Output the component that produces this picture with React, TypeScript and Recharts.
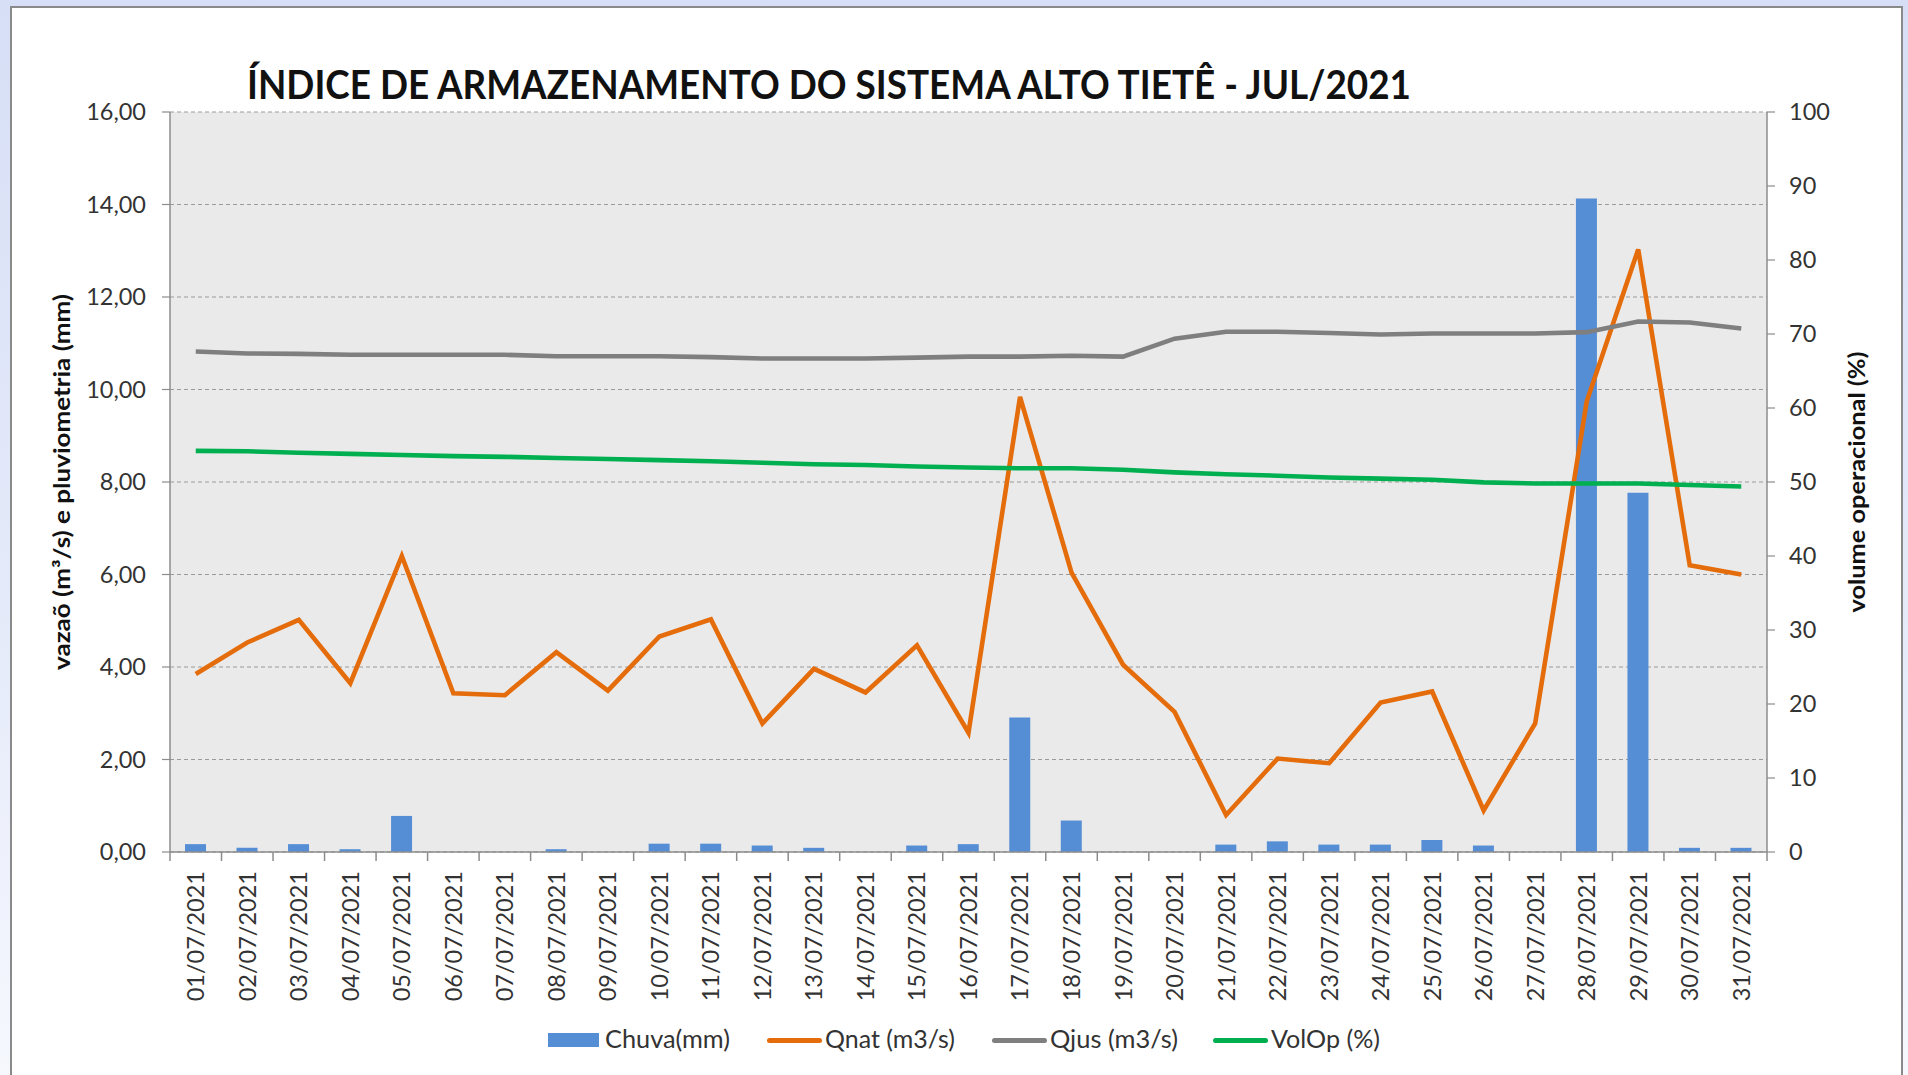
import React from 'react';
import { ComposedChart, Bar, Line, XAxis, YAxis, CartesianGrid, Label } from 'recharts';

const days = [
  '01/07/2021', '02/07/2021', '03/07/2021', '04/07/2021', '05/07/2021', '06/07/2021', '07/07/2021', '08/07/2021',
  '09/07/2021', '10/07/2021', '11/07/2021', '12/07/2021', '13/07/2021', '14/07/2021', '15/07/2021', '16/07/2021',
  '17/07/2021', '18/07/2021', '19/07/2021', '20/07/2021', '21/07/2021', '22/07/2021', '23/07/2021', '24/07/2021',
  '25/07/2021', '26/07/2021', '27/07/2021', '28/07/2021', '29/07/2021', '30/07/2021', '31/07/2021',
];

const chuva = [0.17, 0.09, 0.17, 0.06, 0.78, 0, 0, 0.06, 0, 0.18, 0.18, 0.14, 0.09, 0, 0.14, 0.17, 2.91, 0.68, 0, 0, 0.16, 0.23, 0.16, 0.16, 0.26, 0.14, 0, 14.13, 7.77, 0.09, 0.09];
const qnat = [3.85, 4.53, 5.02, 3.65, 6.4, 3.43, 3.39, 4.32, 3.49, 4.66, 5.03, 2.78, 3.96, 3.45, 4.47, 2.58, 9.84, 6.04, 4.05, 3.03, 0.8, 2.02, 1.92, 3.23, 3.47, 0.9, 2.78, 9.74, 13.03, 6.2, 6.0];
const qjus = [10.82, 10.78, 10.77, 10.75, 10.75, 10.75, 10.75, 10.72, 10.72, 10.72, 10.7, 10.67, 10.67, 10.67, 10.69, 10.71, 10.71, 10.73, 10.71, 11.1, 11.25, 11.25, 11.22, 11.19, 11.21, 11.21, 11.21, 11.24, 11.47, 11.45, 11.32];
const volop = [54.2, 54.15, 53.95, 53.8, 53.65, 53.5, 53.4, 53.25, 53.1, 52.95, 52.8, 52.6, 52.4, 52.3, 52.1, 51.95, 51.86, 51.86, 51.66, 51.3, 51.05, 50.85, 50.6, 50.45, 50.3, 49.95, 49.8, 49.8, 49.8, 49.6, 49.4];

const leftTicks = [0, 2, 4, 6, 8, 10, 12, 14, 16];
const rightTicks = [0, 10, 20, 30, 40, 50, 60, 70, 80, 90, 100];

const seriesNames = ['Chuva(mm)', 'Qnat (m3/s)', 'Qjus (m3/s)', 'VolOp (%)'];
const title = 'ÍNDICE DE ARMAZENAMENTO DO SISTEMA ALTO TIETÊ - JUL/2021';
const leftTitle = 'vazaõ (m³/s) e pluviometria (mm)';
const rightTitle = 'volume operacional (%)';

const data = days.map((d, i) => ({ day: d, chuva: chuva[i], qnat: qnat[i], qjus: qjus[i], volop: volop[i] }));

const W = 1908;
const H = 1075;
const FONT = 'Lato, "Open Sans", sans-serif';
const C_BAR = '#558ED5';
const C_QNAT = '#E46C0A';
const C_QJUS = '#7F7F7F';
const C_VOL = '#00B050';
const C_AXIS = '#8C8C8C';
const C_TEXT = '#333333';
const X_TICK_SIZE = 9;
const X_TICK_MARGIN = 10;
const LINE_W = 4.6;

const fmtLeft = (v: number) => v.toFixed(2).replace('.', ',');

function XTick(props: any) {
  const { x, y, payload, index, visibleTicksCount, width } = props;
  const n = visibleTicksCount || days.length;
  const half = typeof payload?.offset === 'number' && payload.offset > 0 ? payload.offset : width / n / 2;
  const axisY = y - X_TICK_SIZE - X_TICK_MARGIN;
  return (
    <g>
      <line x1={x - half} x2={x - half} y1={axisY} y2={axisY + X_TICK_SIZE} stroke={C_AXIS} strokeWidth={1.5} />
      {index === n - 1 && (
        <line x1={x + half} x2={x + half} y1={axisY} y2={axisY + X_TICK_SIZE} stroke={C_AXIS} strokeWidth={1.5} />
      )}
      <text
        x={x}
        y={y}
        transform={`rotate(-90, ${x}, ${y})`}
        textAnchor="end"
        dy="0.36em"
        fontFamily={FONT}
        fontSize={23.5}
        fill={C_TEXT}
      >
        {payload.value}
      </text>
    </g>
  );
}

function LeftLabel(props: any) {
  const vb = props.viewBox || { x: 90, y: 112, width: 80, height: 740 };
  const cx = vb.x - 20;
  const cy = vb.y + vb.height / 2;
  return (
    <text
      x={cx}
      y={cy}
      transform={`rotate(-90, ${cx}, ${cy})`}
      textAnchor="middle"
      fontFamily={FONT}
      fontWeight={700}
      fontSize={22.5}
      fill="#111"
      textLength={376}
      lengthAdjust="spacingAndGlyphs"
    >
      {leftTitle}
    </text>
  );
}

function RightLabel(props: any) {
  const vb = props.viewBox || { x: 1767, y: 112, width: 80, height: 740 };
  const cx = vb.x + 98;
  const cy = vb.y + vb.height / 2;
  return (
    <text
      x={cx}
      y={cy}
      transform={`rotate(-90, ${cx}, ${cy})`}
      textAnchor="middle"
      fontFamily={FONT}
      fontWeight={700}
      fontSize={22.5}
      fill="#111"
      textLength={261}
      lengthAdjust="spacingAndGlyphs"
    >
      {rightTitle}
    </text>
  );
}

function LegendItem({ color, kind, label, gap, textW }: { color: string; kind: 'rect' | 'line'; label: string; gap: number; textW: number }) {
  return (
    <div style={{ display: 'flex', alignItems: 'center', marginRight: gap }}>
      {kind === 'rect' ? (
        <div style={{ width: 51, height: 14, background: color, marginRight: 6 }} />
      ) : (
        <div style={{ width: 55, height: 5, background: color, borderRadius: 2.5, marginRight: 3 }} />
      )}
      <svg width={textW} height={32} style={{ display: 'block' }}>
        <text
          x={0}
          y={24}
          fontFamily={FONT}
          fontSize={25}
          fill={C_TEXT}
          textLength={textW}
          lengthAdjust="spacingAndGlyphs"
        >
          {label}
        </text>
      </svg>
    </div>
  );
}

export default function App() {
  return (
    <div
      style={{
        position: 'absolute',
        left: 0,
        top: 0,
        width: W,
        height: H,
        overflow: 'hidden',
        background: 'linear-gradient(to bottom, #d7dff6 0%, #e6ebfa 60%, #f6f8fe 100%)',
      }}
    >
      <div
        style={{
          position: 'absolute',
          left: 10,
          top: 6,
          width: W - 15,
          height: H + 20,
          background: '#ffffff',
          border: '2px solid #8a8a8a',
          boxSizing: 'border-box',
        }}
      />
      <div style={{ position: 'absolute', left: 0, top: 0 }}>
        <ComposedChart width={W} height={H} data={data} margin={{ top: 112, right: 61, bottom: 73, left: 90 }}>
          <CartesianGrid
            yAxisId="left"
            vertical={false}
            horizontal={true}
            fill="#EAEAEA"
            stroke="#9A9A9A"
            strokeDasharray="4 3"
            strokeWidth={1.2}
          />
          <XAxis
            dataKey="day"
            interval={0}
            height={150}
            tickLine={false}
            tickSize={X_TICK_SIZE}
            tickMargin={X_TICK_MARGIN}
            axisLine={{ stroke: C_AXIS, strokeWidth: 1.5 }}
            tick={<XTick />}
          />
          <YAxis
            yAxisId="left"
            width={80}
            domain={[0, 16]}
            ticks={leftTicks}
            tickFormatter={fmtLeft}
            tickSize={8}
            tickMargin={16}
            axisLine={{ stroke: C_AXIS, strokeWidth: 1.5 }}
            tickLine={{ stroke: C_AXIS, strokeWidth: 1.2 }}
            tick={{ fontFamily: FONT, fontSize: 23.5, fill: C_TEXT }}
          >
            <Label content={<LeftLabel />} />
          </YAxis>
          <YAxis
            yAxisId="right"
            orientation="right"
            width={80}
            domain={[0, 100]}
            ticks={rightTicks}
            tickSize={8}
            tickMargin={14}
            axisLine={{ stroke: C_AXIS, strokeWidth: 1.5 }}
            tickLine={{ stroke: C_AXIS, strokeWidth: 1.2 }}
            tick={{ fontFamily: FONT, fontSize: 23.5, fill: C_TEXT, textAnchor: 'start' }}
          >
            <Label content={<RightLabel />} />
          </YAxis>
          <Bar yAxisId="left" dataKey="chuva" name={seriesNames[0]} fill={C_BAR} barSize={21} isAnimationActive={false} />
          <Line yAxisId="left" type="linear" dataKey="qnat" name={seriesNames[1]} stroke={C_QNAT} strokeWidth={LINE_W} dot={false} activeDot={false} isAnimationActive={false} />
          <Line yAxisId="left" type="linear" dataKey="qjus" name={seriesNames[2]} stroke={C_QJUS} strokeWidth={LINE_W} dot={false} activeDot={false} isAnimationActive={false} />
          <Line yAxisId="right" type="linear" dataKey="volop" name={seriesNames[3]} stroke={C_VOL} strokeWidth={LINE_W} dot={false} activeDot={false} isAnimationActive={false} />
        </ComposedChart>
      </div>
      <svg style={{ position: 'absolute', left: 0, top: 0, pointerEvents: 'none' }} width={W} height={130}>
        <text
          x={829}
          y={99}
          textAnchor="middle"
          fontFamily={FONT}
          fontWeight={700}
          fontSize={40}
          fill="#111"
          textLength={1164}
          lengthAdjust="spacingAndGlyphs"
        >
          {title}
        </text>
      </svg>
      <div style={{ position: 'absolute', left: 548, top: 1024, height: 32, display: 'flex', alignItems: 'center' }}>
        <LegendItem color={C_BAR} kind="rect" label={seriesNames[0]} gap={37} textW={125} />
        <LegendItem color={C_QNAT} kind="line" label={seriesNames[1]} gap={37} textW={130} />
        <LegendItem color={C_QJUS} kind="line" label={seriesNames[2]} gap={35} textW={128} />
        <LegendItem color={C_VOL} kind="line" label={seriesNames[3]} gap={0} textW={109} />
      </div>
    </div>
  );
}
